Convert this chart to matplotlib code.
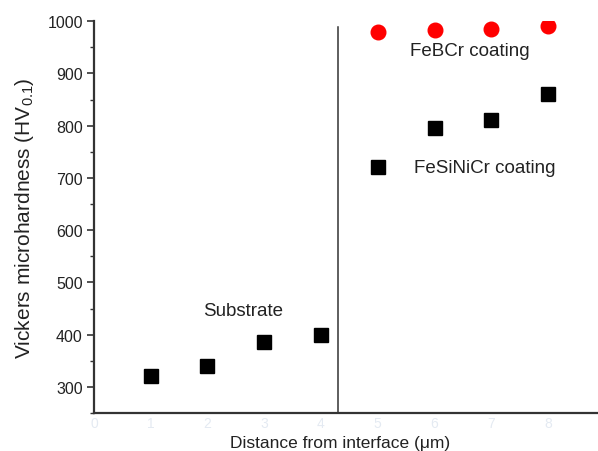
import matplotlib
matplotlib.use("Agg")
import matplotlib.pyplot as plt
from matplotlib.ticker import MultipleLocator

plt.rcParams['font.family'] = ['Liberation Sans', 'DejaVu Sans']
plt.rcParams['mathtext.default'] = 'regular'

# 数据
substrate_x = [1, 2, 3, 4]
substrate_hv = [320, 340, 385, 400]
fesinicr_x = [6, 7, 8]
fesinicr_hv = [795, 810, 860]
febcr_x = [5, 6, 7, 8]
febcr_hv = [980, 983, 985, 990]
legend_x = [5]
legend_hv = [720]
interface_x = 4.3

fig = plt.figure(figsize=(5.98, 4.52), dpi=100)
ax = fig.add_axes([0.157, 0.084, 0.843, 0.867])

ax.plot(substrate_x, substrate_hv, 's', color='black', markersize=9.5)
ax.plot(fesinicr_x, fesinicr_hv, 's', color='black', markersize=9.5)
ax.plot(legend_x, legend_hv, 's', color='black', markersize=9.5)
ax.plot(febcr_x, febcr_hv, 'o', color='red', markersize=10.5)

# 界面线
ax.axvline(interface_x, ymin=0, ymax=0.985, color='#333333', linewidth=1.1)

ax.text(2.63, 447, 'Substrate', fontsize=13.5, color='#222222', ha='center', va='center')
ax.text(6.63, 943, 'FeBCr coating', fontsize=13.5, color='#222222', ha='center', va='center')
ax.text(5.64, 719, 'FeSiNiCr coating', fontsize=13.5, color='#222222', ha='left', va='center')

ax.set_xlim(0, 8.88)
ax.set_ylim(250, 1000)
ax.set_xticks(range(0, 9))
ax.yaxis.set_major_locator(MultipleLocator(100))
ax.yaxis.set_minor_locator(MultipleLocator(50))
ax.set_yticks(range(300, 1001, 100))

for s in ['top', 'right']:
    ax.spines[s].set_visible(False)
for s in ['left', 'bottom']:
    ax.spines[s].set_color('#333333')
    ax.spines[s].set_linewidth(1.6)

ax.tick_params(axis='y', which='major', length=5, width=1.2, color='#333333',
               labelsize=11.5, labelcolor='#222222', pad=3)
ax.tick_params(axis='y', which='minor', length=3, width=1.0, color='#333333')
ax.tick_params(axis='x', length=0, labelsize=10, labelcolor='#e4eaf2', pad=2)

ax.set_xlabel('Distance from interface (\u03bcm)', fontsize=12.5, color='#222222', va='bottom')
ax.xaxis.set_label_coords(0.488, -0.094)
ax.set_ylabel(r'Vickers microhardness (HV$_{0.1}$)', fontsize=15, color='#222222', labelpad=8)

fig.savefig('out.png', dpi=100)
